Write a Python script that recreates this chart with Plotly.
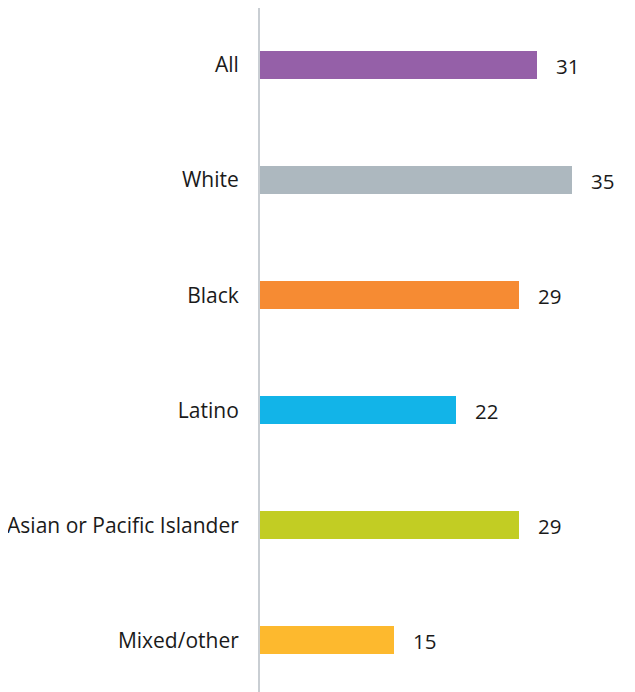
import plotly.graph_objects as go

categories = ["All", "White", "Black", "Latino", "Asian or Pacific Islander", "Mixed/other"]
values = [31, 35, 29, 22, 29, 15]
colors = ["#9560a8", "#adb8bf", "#f68b33", "#12b4e8", "#c2cd23", "#fdb92e"]

FONT = "Open Sans"

fig = go.Figure(go.Bar(
    y=categories,
    x=values,
    orientation="h",
    marker=dict(color=colors, line=dict(width=0)),
    width=0.243,
    hoverinfo="skip",
))

for c, v in zip(categories, values):
    fig.add_annotation(x=v, y=c, text=str(v), showarrow=False,
                       xanchor="left", yanchor="middle", xshift=17, yshift=-1,
                       font=dict(family=FONT, size=20.5, color="#1a1a1a"))

fig.update_layout(
    width=627, height=684,
    margin=dict(l=252, r=18, t=0, b=0),
    paper_bgcolor="white", plot_bgcolor="white",
    showlegend=False,
    bargap=0,
    xaxis=dict(range=[0, 40], showgrid=False, zeroline=False, showticklabels=False,
               ticks="", showline=False),
    yaxis=dict(type="category", categoryorder="array", categoryarray=categories,
               range=[5.448, -0.495], showgrid=False, zeroline=False,
               showline=True, linecolor="#c9ced3", linewidth=2,
               ticks="", ticklabelstandoff=15, automargin=False,
               tickfont=dict(family=FONT, size=21, color="#1a1a1a")),
)

fig.write_html("out.html")
